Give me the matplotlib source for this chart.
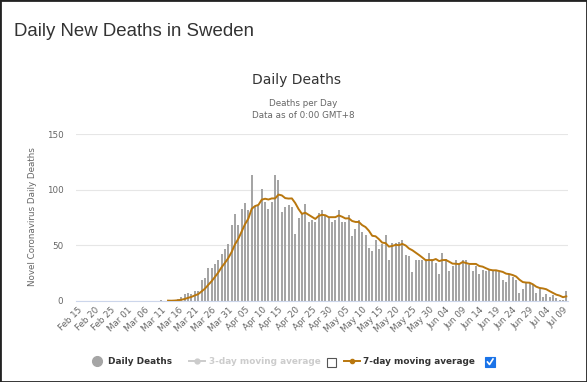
import matplotlib
matplotlib.use("Agg")
import matplotlib.pyplot as plt
from matplotlib.lines import Line2D
from matplotlib.patches import Rectangle
import pandas as pd

# data
axis_start = "2020-02-15"
axis_end = "2020-07-10"
first_day = "2020-03-11"
ma_from = "2020-03-13"
daily_deaths = [
    1, 0, 0, 0, 1, 2,                                   # Mar 11-16
    4, 6, 7, 6, 9, 9, 19, 21, 30, 30, 33, 37, 42, 47, 51,  # Mar 17-31
    68, 78, 68, 83, 88, 82, 113, 85, 85, 101,          # Apr 1-10
    89, 83, 89, 113, 109, 80, 84, 86, 84, 60,          # Apr 11-20
    75, 79, 87, 71, 73, 71, 79, 82, 76, 75,            # Apr 21-30
    71, 73, 82, 71, 71, 77, 58, 65, 73, 62,            # May 1-10
    59, 48, 45, 55, 47, 51, 59, 37, 52, 52,            # May 11-20
    53, 55, 41, 40, 26, 37, 37, 37, 38, 43, 38,        # May 21-31
    34, 24, 43, 38, 27, 31, 37, 32, 37, 37,            # Jun 1-10
    32, 27, 31, 24, 28, 27, 28, 28, 27, 26,            # Jun 11-20
    19, 17, 24, 22, 19, 7, 11, 16, 16, 14,             # Jun 21-30
    7, 11, 4, 6, 4, 5, 3, 1, 1, 9,                     # Jul 1-10
]
tick_labels = ["Feb 15", "Feb 20", "Feb 25", "Mar 01", "Mar 06", "Mar 11",
               "Mar 16", "Mar 21", "Mar 26", "Mar 31", "Apr 05", "Apr 10",
               "Apr 15", "Apr 20", "Apr 25", "Apr 30", "May 05", "May 10",
               "May 15", "May 20", "May 25", "May 30", "Jun 04", "Jun 09",
               "Jun 14", "Jun 19", "Jun 24", "Jun 29", "Jul 04", "Jul 09"]
y_ticks = [0, 50, 100, 150]

W, H = 587, 382
fx = lambda px: px / W
fy = lambda py: 1 - py / H

start = pd.Timestamp(axis_start)
dates = pd.date_range(first_day, periods=len(daily_deaths), freq="D")
x = (dates - start).days
deaths = pd.Series(daily_deaths, index=dates)
ma7 = deaths.rolling(7, min_periods=1).mean()[ma_from:]
x_ma = (ma7.index - start).days
tick_pos = [(pd.to_datetime(t + " 2020", format="%b %d %Y") - start).days for t in tick_labels]
n_days = (pd.Timestamp(axis_end) - start).days

fig = plt.figure(figsize=(W / 100, H / 100), dpi=100)
ax = fig.add_axes([fx(76), fy(301), 492 / W, 167 / H])

ax.bar(x, deaths.values, width=0.6, color="#a5a5a5", zorder=2)
ax.plot(x_ma, ma7.values, color="#b9770e", lw=1.4, zorder=3)

ax.set_xlim(-0.5, n_days + 0.5)
ax.set_ylim(0, 150)
ax.set_yticks(y_ticks)
ax.set_xticks(tick_pos)
ax.set_xticklabels(tick_labels, rotation=45, ha="right", rotation_mode="anchor",
                   fontsize=6.3, color="#666666")
ax.tick_params(axis="x", length=0, pad=3)
ax.tick_params(axis="y", length=0, pad=9, labelsize=6.3, labelcolor="#666666")
for s in ["top", "right", "left"]:
    ax.spines[s].set_visible(False)
ax.spines["bottom"].set_color("#ccd6eb")
ax.spines["bottom"].set_linewidth(0.8)
ax.grid(axis="y", color="#e6e6e6", lw=0.8, zorder=0)
ax.set_axisbelow(True)

# titles
fig.text(fx(14), fy(32), "Daily New Deaths in Sweden", fontsize=13.4,
         family="Liberation Sans", color="#333333", va="center", ha="left")
fig.text(fx(297), fy(80), "Daily Deaths", fontsize=10, color="#333333",
         ha="center", va="center")
fig.text(fx(303), fy(103), "Deaths per Day", fontsize=6.3, color="#666666",
         ha="center", va="center")
fig.text(fx(303), fy(116), "Data as of 0:00 GMT+8", fontsize=6.3, color="#666666",
         ha="center", va="center")
fig.text(fx(33), fy(217), "Novel Coronavirus Daily Deaths", fontsize=6.3,
         color="#666666", rotation=90, ha="center", va="center")

# legend
ly = fy(361)
fig.add_artist(Line2D([fx(97)], [ly], marker="o", ms=7, color="#a5a5a5", lw=0))
fig.text(fx(108), ly, "Daily Deaths", fontsize=6.4, weight="bold", color="#333333", va="center")
fig.add_artist(Line2D([fx(189), fx(205)], [ly, ly], color="#cccccc", lw=1.4))
fig.add_artist(Line2D([fx(197)], [ly], marker="o", ms=3.5, color="#cccccc"))
fig.text(fx(209), ly, "3-day moving average", fontsize=6.4, weight="bold", color="#cccccc", va="center")
fig.add_artist(Rectangle((fx(327), fy(367)), 9 / W, 9 / H, facecolor="white",
                         edgecolor="#555555", lw=0.8))
fig.add_artist(Line2D([fx(344), fx(360)], [ly, ly], color="#b9770e", lw=1.4))
fig.add_artist(Line2D([fx(352)], [ly], marker="o", ms=3, color="#b9770e"))
fig.text(fx(363), ly, "7-day moving average", fontsize=6.4, weight="bold", color="#333333", va="center")
fig.add_artist(Rectangle((fx(485), fy(367)), 10 / W, 10 / H, facecolor="#1a73e8",
                         edgecolor="#1a73e8", lw=0.8))
fig.add_artist(Line2D([fx(487.5), fx(489.5), fx(493)], [fy(362), fy(364.5), fy(359)],
                      color="white", lw=1.2))

# outer border
fig.add_artist(Rectangle((0, 0), 1, 1, transform=fig.transFigure, fill=False,
                         edgecolor="#222222", lw=2))

fig.savefig("out.png", dpi=100)
